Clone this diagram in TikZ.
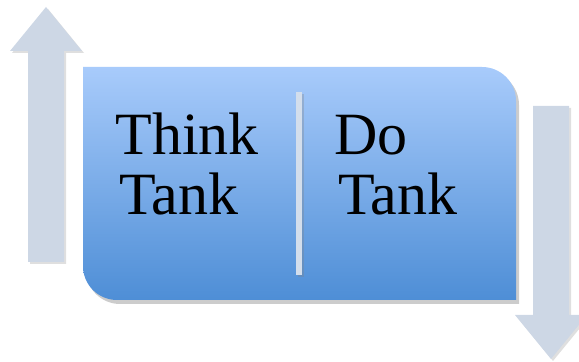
\documentclass[tikz,border=0pt]{standalone}
\usepackage{fontspec}
\setmainfont{Liberation Serif}
\usetikzlibrary{shadows}
\definecolor{arrowgray}{HTML}{CDD7E5}
\definecolor{boxtop}{HTML}{A8CBFB}
\definecolor{boxbottom}{HTML}{4E8ED6}
\definecolor{bargray}{HTML}{D3DEEC}
\tikzset{
  blockarrow/.style={fill=arrowgray,drop shadow={opacity=0.25,shadow xshift=1pt,shadow yshift=-1pt}},
  label/.style={anchor=base west,inner sep=0pt,font=\fontsize{30pt}{30pt}\selectfont}
}
\begin{document}
\begin{tikzpicture}[x=0.5pt,y=0.5pt]
  \useasboundingbox (0,0) rectangle (579,362);
  \clip (0,0) rectangle (579,362);

  % Pfeil nach oben (links)
  \fill[blockarrow] (28,100) -- (28,311) -- (10,311) -- (46,355) -- (82,311) -- (64,311) -- (64,100) -- cycle;

  % Pfeil nach unten (rechts)
  \fill[blockarrow] (533,256) -- (533,47) -- (515,47) -- (551,3) -- (587,47) -- (569,47) -- (569,256) -- cycle;

  % Kasten mit Verlauf
  \shade[top color=boxtop,bottom color=boxbottom,
    drop shadow={opacity=0.4,shadow xshift=1.5pt,shadow yshift=-2pt}]
    (83,295) -- (482,295) arc[start angle=90,end angle=0,radius=17pt]
    -- (516,62) -- (117,62) arc[start angle=270,end angle=180,radius=17pt] -- cycle;

  % Trennstrich
  \fill[bargray,drop shadow={opacity=0.3,shadow xshift=1pt,shadow yshift=-1pt}] (296,87) rectangle (302,270);

  % Beschriftung
  \node[label] (think) at (115,207) {Think};
  \node[label] (tank1) at (119,147) {Tank};
  \node[label] (do) at (334,207) {Do};
  \node[label] (tank2) at (338,147) {Tank};
\end{tikzpicture}
\end{document}
